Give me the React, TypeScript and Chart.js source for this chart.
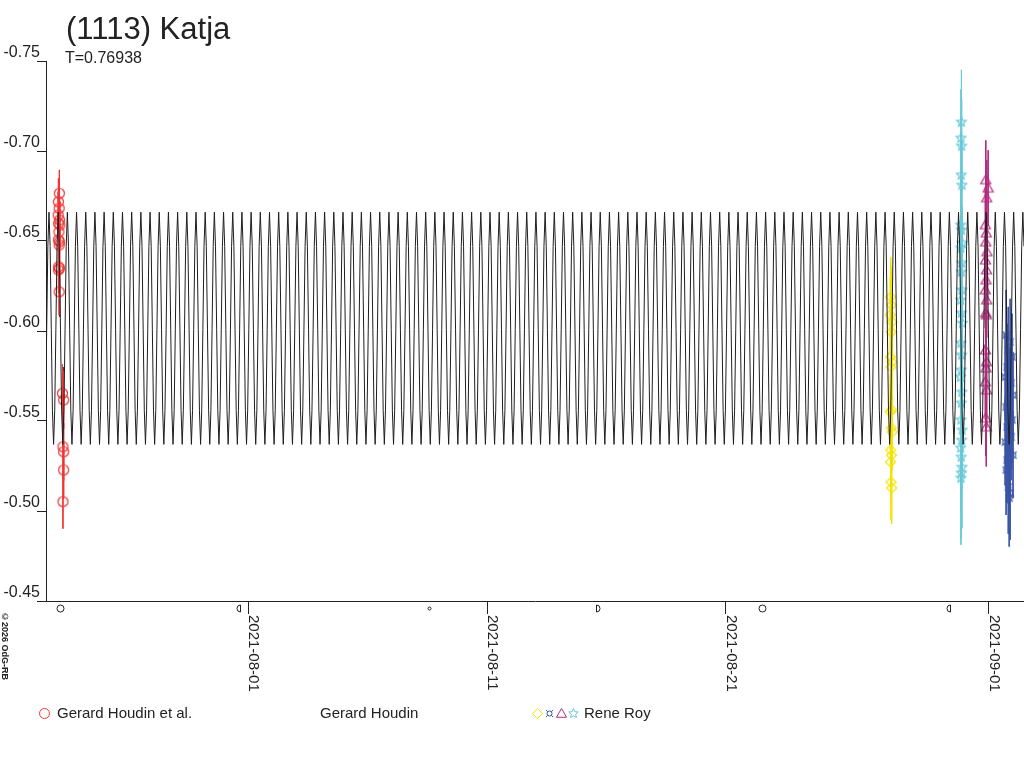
import { useEffect, useRef } from 'react';
import Chart from 'chart.js/auto';

// time axis: days since 2021-07-01 00:00 UT
const X_MIN = 22.53;
const X_MAX = 63.48;

const xTickDays = [31, 41, 51, 62];
const xTickLabels = ['2021-08-01', '2021-08-11', '2021-08-21', '2021-09-01'];
const yTicks = [-0.75, -0.7, -0.65, -0.6, -0.55, -0.5, -0.45];

// moon phases shown under the time axis
const moonDays = [23.11, 30.55, 38.58, 45.64, 52.5, 60.3];
const moonPhases = ['full', 'last', 'new', 'first', 'full', 'last'];

// fitted lightcurve: period T (days) and one brightness cycle (half period)
const period = 0.76938;
const curveEpoch = 37.658;
const curveShape = [-0.666, -0.647, -0.601, -0.556, -0.537, -0.556, -0.601, -0.647];

// Gerard Houdin et al.
const houdinEtAlDays = [23.09, 23.05, 23.08, 23.04, 23.1, 23.06, 23.11, 23.07, 23.05, 23.1, 23.08, 23.06, 23.1, 23.05, 23.08, 23.22, 23.27, 23.24, 23.27, 23.27, 23.24];
const houdinEtAlMags = [-0.6765, -0.6718, -0.6682, -0.6644, -0.6617, -0.6598, -0.6589, -0.655, -0.6506, -0.6496, -0.6478, -0.6357, -0.6348, -0.6339, -0.6218, -0.5654, -0.5617, -0.5357, -0.5329, -0.5228, -0.5052];
const houdinEtAlErr = [0.013, 0.013, 0.013, 0.013, 0.013, 0.013, 0.013, 0.013, 0.013, 0.013, 0.013, 0.013, 0.013, 0.013, 0.013, 0.016, 0.016, 0.016, 0.016, 0.016, 0.015];

// Gerard Houdin
const houdinDays = [23.09, 23.1, 23.24, 23.25];
const houdinMags = [-0.652, -0.622, -0.569, -0.547];
const houdinErr = [0.014, 0.014, 0.011, 0.011];

// Rene Roy, four sessions
const roy1Days = [57.9, 57.93, 57.88, 57.96, 57.92, 57.89, 57.95, 57.91, 57.94, 57.88, 57.92, 57.96, 57.9, 57.93, 57.89, 57.91, 57.94];
const roy1Mags = [-0.6189, -0.6144, -0.6089, -0.605, -0.5994, -0.5856, -0.5828, -0.58, -0.5561, -0.555, -0.5461, -0.5439, -0.5339, -0.5311, -0.5272, -0.5161, -0.5128];
const roy1Err = [0.022, 0.021, 0.021, 0.021, 0.021, 0.021, 0.021, 0.021, 0.021, 0.021, 0.021, 0.021, 0.021, 0.021, 0.021, 0.021, 0.02];

const roy2Days = [60.86, 60.84, 60.87, 60.85, 60.88, 60.83, 60.86, 60.89, 60.84, 60.87, 60.85, 60.88, 60.83, 60.86, 60.9, 60.84, 60.87, 60.85, 60.82, 60.88, 60.86, 60.84, 60.89, 60.87, 60.83, 60.85, 60.88, 60.86, 60.84];
const roy2Mags = [-0.7161, -0.7072, -0.7028, -0.6867, -0.6811, -0.6589, -0.6561, -0.6489, -0.6461, -0.6378, -0.6328, -0.6228, -0.6172, -0.61, -0.6044, -0.5933, -0.5867, -0.5783, -0.5744, -0.5661, -0.56, -0.5506, -0.545, -0.5394, -0.535, -0.53, -0.5244, -0.5211, -0.5183];
const roy2Err = [0.029, 0.027, 0.026, 0.024, 0.024, 0.02, 0.02, 0.02, 0.02, 0.02, 0.02, 0.02, 0.02, 0.02, 0.02, 0.021, 0.021, 0.022, 0.022, 0.023, 0.024, 0.025, 0.026, 0.028, 0.03, 0.032, 0.034, 0.036, 0.037];

const roy3Days = [61.88, 61.98, 61.92, 61.86, 61.9, 61.88, 61.93, 61.87, 61.91, 61.89, 61.86, 61.92, 61.88, 61.9, 61.87, 61.91, 61.89, 61.86, 61.92, 61.88, 61.9];
const roy3Mags = [-0.6839, -0.6794, -0.6739, -0.6589, -0.6544, -0.6494, -0.6439, -0.6394, -0.6339, -0.6283, -0.6228, -0.6172, -0.61, -0.6089, -0.5894, -0.5828, -0.5794, -0.5717, -0.5672, -0.5517, -0.5467];
const roy3Err = [0.022, 0.021, 0.021, 0.021, 0.021, 0.021, 0.021, 0.021, 0.021, 0.021, 0.021, 0.021, 0.021, 0.021, 0.021, 0.021, 0.021, 0.021, 0.021, 0.021, 0.022];

const roy4Days = [62.73, 62.9, 62.82, 62.98, 62.77, 62.69, 62.94, 62.86, 63.02, 62.82, 62.73, 62.9, 62.98, 62.77, 62.86, 62.94, 62.69, 62.82, 62.9, 63.02, 62.77, 62.86, 62.73, 62.82, 62.9, 62.86];
const roy4Mags = [-0.5978, -0.5939, -0.5894, -0.5856, -0.58, -0.5744, -0.5711, -0.5661, -0.5644, -0.5617, -0.5578, -0.5533, -0.5506, -0.5467, -0.5439, -0.5411, -0.5383, -0.5356, -0.5328, -0.5311, -0.5283, -0.5256, -0.5228, -0.5133, -0.51, -0.5072];
const roy4Err = [0.025, 0.024, 0.024, 0.024, 0.024, 0.024, 0.024, 0.024, 0.024, 0.024, 0.024, 0.024, 0.024, 0.024, 0.024, 0.024, 0.024, 0.024, 0.024, 0.024, 0.024, 0.025, 0.025, 0.026, 0.026, 0.027];

type Marker = 'circle' | 'diamond' | 'currency' | 'triangle' | 'star' | null;

const series: { days: number[]; mags: number[]; errs: number[]; color: string; marker: Marker }[] = [
  { days: houdinEtAlDays, mags: houdinEtAlMags, errs: houdinEtAlErr, color: '#f23535', marker: 'circle' },
  { days: houdinDays, mags: houdinMags, errs: houdinErr, color: '#222222', marker: null },
  { days: roy1Days, mags: roy1Mags, errs: roy1Err, color: '#f2e400', marker: 'diamond' },
  { days: roy2Days, mags: roy2Mags, errs: roy2Err, color: '#68c9d8', marker: 'star' },
  { days: roy3Days, mags: roy3Mags, errs: roy3Err, color: '#b42a7e', marker: 'triangle' },
  { days: roy4Days, mags: roy4Mags, errs: roy4Err, color: '#3b55a6', marker: 'currency' },
];

function drawMarker(ctx: CanvasRenderingContext2D, kind: Marker, x: number, y: number, r: number) {
  ctx.beginPath();
  if (kind === 'circle') {
    ctx.arc(x, y, r, 0, Math.PI * 2);
  } else if (kind === 'diamond') {
    ctx.moveTo(x, y - r);
    ctx.lineTo(x + r, y);
    ctx.lineTo(x, y + r);
    ctx.lineTo(x - r, y);
    ctx.closePath();
  } else if (kind === 'triangle') {
    ctx.moveTo(x, y - r);
    ctx.lineTo(x + r, y + r * 0.75);
    ctx.lineTo(x - r, y + r * 0.75);
    ctx.closePath();
  } else if (kind === 'star') {
    for (let i = 0; i < 10; i++) {
      const a = -Math.PI / 2 + (i * Math.PI) / 5;
      const rr = i % 2 === 0 ? r : r * 0.45;
      const px = x + Math.cos(a) * rr;
      const py = y + Math.sin(a) * rr;
      if (i === 0) ctx.moveTo(px, py);
      else ctx.lineTo(px, py);
    }
    ctx.closePath();
  } else if (kind === 'currency') {
    ctx.arc(x, y, r * 0.5, 0, Math.PI * 2);
    for (let i = 0; i < 4; i++) {
      const a = Math.PI / 4 + (i * Math.PI) / 2;
      ctx.moveTo(x + Math.cos(a) * r * 0.5, y + Math.sin(a) * r * 0.5);
      ctx.lineTo(x + Math.cos(a) * r, y + Math.sin(a) * r);
    }
  }
  ctx.stroke();
}

function markerImage(kind: Marker, color: string) {
  const c = document.createElement('canvas');
  c.width = 13;
  c.height = 13;
  const ctx = c.getContext('2d');
  if (ctx) {
    ctx.strokeStyle = color;
    ctx.lineWidth = 1.2;
    drawMarker(ctx, kind, 6.5, 6.5, 5);
  }
  return c;
}

function errorBars(days: number[], mags: number[], errs: number[]) {
  const pts: { x: number; y: number | null }[] = [];
  days.forEach((d, i) => {
    pts.push({ x: d, y: mags[i] - errs[i] }, { x: d, y: mags[i] + errs[i] }, { x: d, y: null });
  });
  return pts;
}

function fitCurve() {
  const step = period / 2 / curveShape.length;
  const kMin = Math.floor((X_MIN - curveEpoch) / step);
  const kMax = Math.ceil((X_MAX - curveEpoch) / step);
  const pts: { x: number; y: number }[] = [];
  for (let k = kMin; k <= kMax; k++) {
    const n = curveShape.length;
    pts.push({ x: curveEpoch + k * step, y: curveShape[((k % n) + n) % n] });
  }
  return pts;
}

const FONT = '"Liberation Sans", Arial, sans-serif';

export default function App() {
  const chartRef = useRef<HTMLCanvasElement | null>(null);
  const chartInstance = useRef<Chart | null>(null);

  useEffect(() => {
    if (!chartRef.current) return;
    if (chartInstance.current) chartInstance.current.destroy();

    const datasets: any[] = [
      {
        type: 'line',
        data: fitCurve(),
        borderColor: '#1e1e1e',
        borderWidth: 1,
        pointRadius: 0,
        tension: 0,
        order: 0,
      },
    ];
    series.forEach((s) => {
      datasets.push({
        type: 'line',
        data: errorBars(s.days, s.mags, s.errs),
        borderColor: s.color,
        borderWidth: 1,
        pointRadius: 0,
        spanGaps: false,
        order: 2,
      });
      if (s.marker) {
        datasets.push({
          type: 'line',
          showLine: false,
          data: s.days.map((d, i) => ({ x: d, y: s.mags[i] })),
          pointStyle: markerImage(s.marker, s.color),
          pointRadius: 5,
          order: 1,
        });
      }
    });

    const overlay = {
      id: 'overlay',
      afterDraw(chart: Chart) {
        const { ctx } = chart;
        const x = chart.scales.x;
        const bottom = chart.chartArea.bottom;
        ctx.save();
        ctx.fillStyle = '#222';
        ctx.strokeStyle = '#222';
        ctx.lineWidth = 1;
        ctx.font = `15px ${FONT}`;
        ctx.textAlign = 'left';
        ctx.textBaseline = 'alphabetic';
        xTickDays.forEach((d, i) => {
          const px = Math.round(x.getPixelForValue(d));
          ctx.save();
          ctx.translate(px + 1, bottom + 14);
          ctx.rotate(Math.PI / 2);
          ctx.fillText(xTickLabels[i], 0, 0);
          ctx.restore();
        });
        // moon phase symbols
        const my = bottom + 7.5;
        moonDays.forEach((d, i) => {
          const px = Math.round(x.getPixelForValue(d)) + 0.5;
          const ph = moonPhases[i];
          ctx.beginPath();
          if (ph === 'full') {
            ctx.arc(px, my, 3.5, 0, Math.PI * 2);
          } else if (ph === 'new') {
            ctx.arc(px, my, 1.5, 0, Math.PI * 2);
          } else if (ph === 'first') {
            ctx.moveTo(px - 2, my - 3.5);
            ctx.lineTo(px - 2, my + 3.5);
            ctx.arc(px - 2, my, 3.5, Math.PI / 2, -Math.PI / 2, true);
          } else {
            ctx.moveTo(px + 2, my - 3.5);
            ctx.lineTo(px + 2, my + 3.5);
            ctx.arc(px + 2, my, 3.5, Math.PI / 2, (3 * Math.PI) / 2, false);
          }
          ctx.stroke();
        });
        // legend symbols
        const ly = 713.5;
        const legendMarks: [number, number][] = [
          [44.5, 0],
          [537.5, 2],
          [549.5, 5],
          [561.5, 4],
          [573.5, 3],
        ];
        legendMarks.forEach(([lx, si]) => {
          ctx.strokeStyle = series[si].color;
          drawMarker(ctx, series[si].marker, lx, ly, 5);
        });
        ctx.restore();
      },
    };

    chartInstance.current = new Chart(chartRef.current, {
      type: 'line',
      data: { datasets },
      options: {
        responsive: false,
        animation: false,
        events: [],
        layout: { autoPadding: false, padding: { top: 61, left: 0, right: 0, bottom: 0 } },
        plugins: {
          legend: { display: false },
          tooltip: { enabled: false },
          title: { display: false },
        },
        scales: {
          x: {
            type: 'linear',
            min: X_MIN,
            max: X_MAX,
            afterBuildTicks: (scale: any) => {
              scale.ticks = xTickDays.map((v) => ({ value: v }));
            },
            afterFit: (scale: any) => {
              scale.height = 167;
            },
            ticks: { display: false },
            grid: { drawOnChartArea: false, drawTicks: true, tickLength: 13, color: '#222' },
            border: { display: true, color: '#222', width: 1 },
          },
          y: {
            type: 'linear',
            reverse: true,
            min: -0.75,
            max: -0.45,
            afterBuildTicks: (scale: any) => {
              scale.ticks = yTicks.map((v) => ({ value: v }));
            },
            afterFit: (scale: any) => {
              scale.width = 46;
            },
            ticks: {
              color: '#222',
              font: { family: FONT, size: 16 },
              padding: -3,
              labelOffset: -8,
              callback: (v: any) => Number(v).toFixed(2),
            },
            grid: { drawOnChartArea: false, drawTicks: true, tickLength: 9, color: '#222' },
            border: { display: true, color: '#222', width: 1 },
          },
        },
      },
      plugins: [overlay],
    });

    return () => {
      if (chartInstance.current) {
        chartInstance.current.destroy();
        chartInstance.current = null;
      }
    };
  }, []);

  const text = (left: number, top: number, size: number, content: string) => (
    <div style={{ position: 'absolute', left, top, fontSize: size, lineHeight: `${size}px`, whiteSpace: 'nowrap' }}>
      {content}
    </div>
  );

  return (
    <div
      style={{
        position: 'absolute',
        left: 0,
        top: 0,
        width: 1024,
        height: 768,
        background: '#fff',
        fontFamily: FONT,
        color: '#222',
      }}
    >
      <canvas ref={chartRef} width={1024} height={768} style={{ position: 'absolute', left: 0, top: 0 }} />
      {text(66, 13, 31, '(1113) Katja')}
      {text(65, 50, 16, 'T=0.76938')}
      {text(57, 705, 15, 'Gerard Houdin et al.')}
      {text(320, 705, 15, 'Gerard Houdin')}
      {text(584, 705, 15, 'Rene Roy')}
      <div
        style={{
          position: 'absolute',
          left: 0,
          top: 612,
          fontSize: 9,
          lineHeight: '9px',
          fontWeight: 'bold',
          writingMode: 'vertical-rl',
          whiteSpace: 'nowrap',
        }}
      >
        ©2026 OdG-RB
      </div>
    </div>
  );
}
